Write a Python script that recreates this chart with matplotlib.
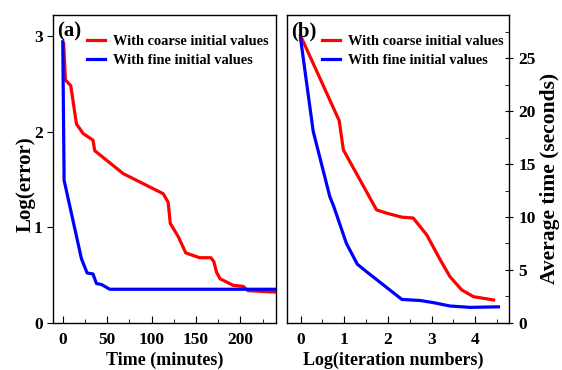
import matplotlib.pyplot as plt
from matplotlib.ticker import MultipleLocator

plt.rcParams['font.family'] = ['Liberation Serif', 'DejaVu Serif']
plt.rcParams['font.weight'] = 'bold'

# (a) log error vs wall-clock time
time_coarse = [1, 3, 9, 15.4, 22.9, 34, 36, 68, 113, 118.6, 121, 130, 138.5,
               154, 166.7, 170, 173, 177, 192, 203, 208.6, 240]
err_coarse = [2.92, 2.54, 2.48, 2.08, 1.98, 1.91, 1.80, 1.56, 1.35, 1.26, 1.04,
              0.90, 0.73, 0.68, 0.68, 0.64, 0.53, 0.46, 0.39, 0.38, 0.335, 0.32]
time_fine = [0, 1.5, 21, 27.4, 34, 37.9, 43.5, 52.9, 240]
err_fine = [2.94, 1.49, 0.67, 0.52, 0.51, 0.41, 0.40, 0.35, 0.35]

# (b) average time vs log(iteration numbers)
iter_coarse = [0, 0.886, 0.98, 1.74, 1.97, 2.32, 2.58, 2.89, 3.2, 3.42, 3.69,
               3.96, 4.42]
avg_coarse = [27.15, 19.1, 16.35, 10.67, 10.36, 9.98, 9.9, 8.3, 5.94, 4.36,
              3.1, 2.46, 2.15]
iter_fine = [0, 0.29, 0.67, 0.76, 1.05, 1.30, 1.51, 2.32, 2.74, 3.04, 3.42,
             3.88, 4.53]
avg_fine = [26.9, 18.1, 11.93, 11.0, 7.5, 5.53, 4.83, 2.2, 2.1, 1.9, 1.58,
            1.45, 1.5]

labels = ['With coarse initial values', 'With fine initial values']

fig = plt.figure(figsize=(5.62, 3.70), dpi=100)
ax1 = fig.add_axes([53 / 562, 47.3 / 370, 223 / 562, 307.7 / 370])
ax2 = fig.add_axes([287 / 562, 47.3 / 370, 222.3 / 562, 307.7 / 370])

lw = 2.3
tick_fs = 12.5
ax1.plot(time_coarse, err_coarse, color='red', lw=lw, label=labels[0])
ax1.plot(time_fine, err_fine, color='blue', lw=lw, label=labels[1])
ax1.set_xlim(-11, 240)
ax1.set_ylim(0, 3.22)
ax1.xaxis.set_major_locator(MultipleLocator(50))
ax1.xaxis.set_minor_locator(MultipleLocator(25))
ax1.yaxis.set_major_locator(MultipleLocator(1))
ax1.tick_params(axis='x', which='both', direction='in', labelsize=tick_fs, pad=7)
ax1.tick_params(axis='x', which='major', length=5)
ax1.tick_params(axis='x', which='minor', length=3)
ax1.tick_params(axis='y', direction='out', length=4, labelsize=tick_fs)
ax1.set_xlabel('Time (minutes)', fontsize=13, fontweight='bold')
ax1.xaxis.set_label_coords(0.5, -0.094)
ax1.set_ylabel('Log(error)', fontsize=15, fontweight='bold')
ax1.yaxis.set_label_coords(-0.08, 0.45)
ax1.text(0.017, 0.945, '(a)', transform=ax1.transAxes, fontsize=15,
         fontweight='bold', va='center', ha='left')

ax2.plot(iter_coarse, avg_coarse, color='red', lw=lw, label=labels[0])
ax2.plot(iter_fine, avg_fine, color='blue', lw=lw, label=labels[1])
ax2.set_xlim(-0.31, 4.78)
ax2.set_ylim(0, 29.1)
ax2.xaxis.set_major_locator(MultipleLocator(1))
ax2.xaxis.set_minor_locator(MultipleLocator(0.5))
ax2.yaxis.set_major_locator(MultipleLocator(5))
ax2.yaxis.set_minor_locator(MultipleLocator(2.5))
ax2.yaxis.tick_right()
ax2.yaxis.set_label_position('right')
ax2.tick_params(axis='x', which='both', direction='in', labelsize=tick_fs, pad=7)
ax2.tick_params(axis='x', which='major', length=5)
ax2.tick_params(axis='x', which='minor', length=3)
ax2.tick_params(axis='y', which='major', direction='inout', length=6,
                labelsize=tick_fs)
ax2.tick_params(axis='y', which='minor', direction='in', length=3)
ax2.set_xlabel('Log(iteration numbers)', fontsize=13, fontweight='bold')
ax2.xaxis.set_label_coords(0.477, -0.094)
ax2.set_ylabel('Average time (seconds)', fontsize=15.5, fontweight='bold')
ax2.yaxis.set_label_coords(1.138, 0.47)
ax2.text(0.017, 0.945, '(b)', transform=ax2.transAxes, fontsize=15,
         fontweight='bold', va='center', ha='left')

for ax, x0 in ((ax1, 0.151), (ax2, 0.156)):
    for sp in ax.spines.values():
        sp.set_linewidth(1.0)
    for t in ax.get_xticklabels() + ax.get_yticklabels():
        t.set_fontweight('bold')
    ax.legend(loc='upper left', bbox_to_anchor=(x0, 0.936), frameon=False,
              prop={'weight': 'bold', 'size': 10.4}, handlelength=1.3,
              handletextpad=0.5, labelspacing=0.45, borderaxespad=0,
              borderpad=0)

fig.savefig('out.png', dpi=100)
